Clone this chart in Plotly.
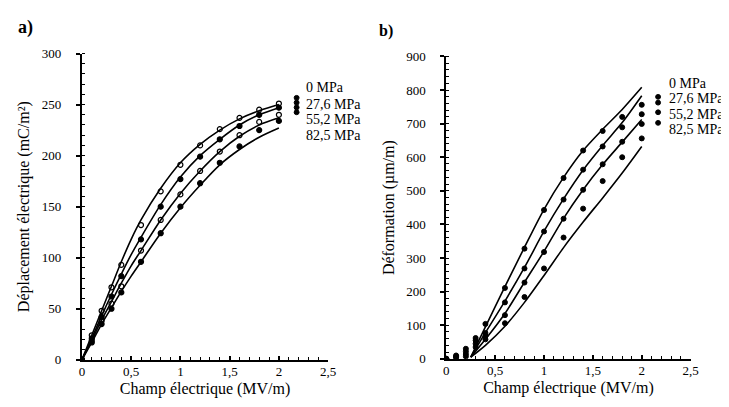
import plotly.graph_objects as go

# ---------------- data ----------------
series_names = ["0 MPa", "27,6 MPa", "55,2 MPa", "82,5 MPa"]

# measured points (both panels share the same field values)
field_pts = [0, 0.1, 0.2, 0.3, 0.4, 0.6, 0.8, 1.0, 1.2, 1.4, 1.6, 1.8, 2.0]

# panel a) electric displacement (mC/m2)
disp_0 = [0, 24, 48, 71, 93, 132, 165, 191, 210, 226, 237, 245, 251]
disp_27 = [0, 21, 42, 62, 82, 118, 150, 177, 199, 216, 229, 240, 247]
disp_55 = [0, 19, 38, 55, 72, 107, 137, 162, 185, 204, 220, 233, 240]
disp_82 = [0, 17, 35, 50, 66, 96, 124, 150, 173, 193, 209, 225, 234]

# panel a) model curves
field_line_a = [0, 0.1, 0.2, 0.3, 0.4, 0.5, 0.6, 0.8, 1.0, 1.2, 1.4, 1.6, 1.8, 2.0]
disp_line_0 = [0, 24, 48, 72, 96, 118, 137, 168, 193, 211, 225, 236, 244, 250]
disp_line_27 = [0, 21, 43, 64, 84, 103, 120, 152, 179, 200, 216, 230, 240, 247]
disp_line_55 = [0, 19, 39, 57, 75, 92, 107, 137, 163, 185, 204, 219, 230, 237]
disp_line_82 = [0, 17, 35, 51, 67, 82, 96, 124, 149, 171, 191, 206, 218, 227]

# panel b) strain (um/m)
strain_0 = [0, 10, 30, 62, 104, 211, 328, 443, 538, 620, 678, 720, 756]
strain_27 = [0, 7, 22, 55, 77, 168, 269, 379, 474, 563, 632, 689, 728]
strain_55 = [0, 5, 14, 45, 68, 130, 227, 318, 417, 503, 579, 646, 699]
strain_82 = [0, 3, 7, 35, 58, 106, 184, 269, 361, 447, 529, 600, 656]

# panel b) model curves
field_line_b = [0.25, 0.4, 0.6, 0.8, 1.0, 1.2, 1.4, 1.6, 1.8, 2.0]
strain_line_0 = [5, 95, 215, 332, 445, 540, 620, 683, 742, 808]
strain_line_27 = [5, 78, 172, 272, 380, 476, 562, 635, 703, 783]
strain_line_55 = [5, 58, 135, 228, 320, 418, 503, 578, 645, 712]
strain_line_82 = [5, 40, 97, 168, 248, 331, 407, 479, 553, 632]

x_ticks = [0, 0.5, 1, 1.5, 2, 2.5]
x_ticklabels = ["0", "0,5", "1", "1,5", "2", "2,5"]

# ---------------- figure ----------------
W, H = 729, 407
SERIF = "Times New Roman, Liberation Serif, DejaVu Serif, serif"

fig = go.Figure()

pts_a = [disp_0, disp_27, disp_55, disp_82]
lines_a = [disp_line_0, disp_line_27, disp_line_55, disp_line_82]
pts_b = [strain_0, strain_27, strain_55, strain_82]
lines_b = [strain_line_0, strain_line_27, strain_line_55, strain_line_82]
symbols_a = ["circle-open", "circle", "circle-open", "circle"]
symbols_b = ["circle", "circle", "circle", "circle"]

for i in range(4):
    fig.add_trace(go.Scatter(x=field_line_a, y=lines_a[i], mode="lines",
                             line=dict(color="black", width=1.6, shape="spline", smoothing=0.8),
                             xaxis="x", yaxis="y", showlegend=False, hoverinfo="skip"))
    fig.add_trace(go.Scatter(x=field_pts, y=pts_a[i], mode="markers", name=series_names[i],
                             marker=dict(symbol=symbols_a[i], size=5, color="black",
                                         line=dict(color="black", width=1.2)),
                             xaxis="x", yaxis="y", showlegend=False))
    fig.add_trace(go.Scatter(x=field_line_b, y=lines_b[i], mode="lines",
                             line=dict(color="black", width=1.6, shape="spline", smoothing=0.8),
                             xaxis="x2", yaxis="y2", showlegend=False, hoverinfo="skip"))
    fig.add_trace(go.Scatter(x=field_pts, y=pts_b[i], mode="markers", name=series_names[i],
                             marker=dict(symbol=symbols_b[i], size=5, color="black",
                                         line=dict(color="black", width=1)),
                             xaxis="x2", yaxis="y2", showlegend=False))

def px_x(v):
    return v / W

def px_y(v):
    return 1 - v / H

x_axis_common = dict(
    showline=True, linecolor="black", linewidth=2, showgrid=False, zeroline=False,
    ticks="inside", ticklen=4, tickwidth=1.5, tickcolor="black",
    tickfont=dict(family=SERIF, size=13, color="black"),
    ticklabelstandoff=-1,
    minor=dict(ticks="inside", ticklen=3, tickwidth=1, tickcolor="black", dtick=0.1),
)
y_axis_common = dict(
    showline=True, linecolor="black", linewidth=2, showgrid=False, zeroline=False,
    ticks="outside", ticklen=4, tickwidth=1.5, tickcolor="black",
    tickfont=dict(family=SERIF, size=13, color="black"),
    ticklabelstandoff=12,
)
TITLE_FONT = dict(family=SERIF, size=16, color="black")

fig.update_layout(
    width=W, height=H,
    margin=dict(l=0, r=0, t=0, b=0),
    paper_bgcolor="white", plot_bgcolor="white",
    separators=", ",
    showlegend=False,
    font=dict(family=SERIF, color="black"),
    xaxis=dict(domain=[px_x(72), px_x(322)], range=[0, 2.5], anchor="y",
               tickvals=x_ticks, ticktext=x_ticklabels,
               title=dict(text="Champ électrique (MV/m)", font=TITLE_FONT, standoff=4),
               **x_axis_common),
    yaxis=dict(domain=[px_y(358), px_y(40)], range=[0, 300], anchor="x", dtick=50,
               title=dict(text="Déplacement électrique (mC/m²)", font=TITLE_FONT, standoff=8),
               minor=dict(ticks="inside", ticklen=3, tickwidth=1, tickcolor="black", dtick=10),
               **y_axis_common),
    xaxis2=dict(domain=[px_x(442), px_x(690)], range=[0, 2.5], anchor="y2",
                tickvals=x_ticks, ticktext=x_ticklabels,
                title=dict(text="Champ électrique (MV/m)", font=TITLE_FONT, standoff=4),
                **x_axis_common),
    yaxis2=dict(domain=[px_y(357), px_y(43)], range=[0, 900], anchor="x2", dtick=100,
                title=dict(text="Déformation (µm/m)", font=TITLE_FONT, standoff=8),
                minor=dict(ticks="inside", ticklen=3, tickwidth=1, tickcolor="black", dtick=20),
                **y_axis_common),
)

annotations = [
    dict(text="<b>a)</b>", x=px_x(5), y=px_y(13), xanchor="left", yanchor="middle",
         font=dict(family=SERIF, size=18)),
    dict(text="<b>b)</b>", x=px_x(372), y=px_y(17), xanchor="left", yanchor="middle",
         font=dict(family=SERIF, size=16)),
]
legend_a_y = [75, 93, 109, 125]
legend_b_y = [71, 87, 103, 119]
for i, name in enumerate(series_names):
    annotations.append(dict(text=name, x=px_x(297), y=px_y(legend_a_y[i]), xanchor="left",
                            yanchor="middle", font=dict(family=SERIF, size=14)))
    annotations.append(dict(text=name, x=px_x(666), y=px_y(legend_b_y[i]), xanchor="left",
                            yanchor="middle", font=dict(family=SERIF, size=14)))
for a in annotations:
    a.setdefault("showarrow", False)
    a.setdefault("xref", "paper")
    a.setdefault("yref", "paper")
fig.update_layout(annotations=annotations)

# legend symbols (decorative key glyphs)
shapes = []
key_a = [(290, 86), (290, 91), (290, 96), (290, 101)]
key_b = [(657, 85), (657, 91), (657, 101), (657, 112)]
for cx, cy in key_a + key_b:
    shapes.append(dict(type="circle", xref="paper", yref="paper",
                       x0=px_x(cx - 2.5), x1=px_x(cx + 2.5), y0=px_y(cy + 2.5), y1=px_y(cy - 2.5),
                       fillcolor="black", line=dict(color="black", width=1)))
fig.update_layout(shapes=shapes)

fig.write_html("out.html")
